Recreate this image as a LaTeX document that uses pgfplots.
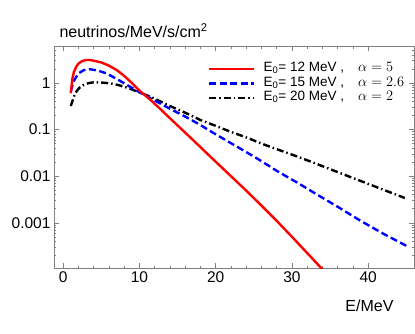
\documentclass[border=0pt]{standalone}
\usepackage{pgfplots}
\pgfplotsset{compat=1.18}
\usepackage{fontspec}
\setmainfont{Liberation Sans}

% spectra: E (MeV), flux
\pgfplotstableread{
E      f
1.0    0.6
1.2    1.2
1.4    1.7
1.7    2.2
2.0    2.6
2.5    2.95
3.0    3.1
3.5    3.1
4.0    3.0
5.0    2.75
6.0    2.35
7.0    1.9
8.0    1.42
9.0    1.0
10.1   0.66
11.4   0.44
12.5   0.30
14     0.175
16     0.086
18     0.042
20     0.0204
22     0.010
24     0.0049
26     0.00234
28     0.0011
30     0.0005
32     0.000224
34     0.0001
}\redspec
\pgfplotstableread{
E      f
1.0    0.65
1.35   1.07
2.0    1.6
2.7    1.88
3.5    1.97
4.5    1.85
5.7    1.6
7.25   1.16
8.5    0.88
10.1   0.62
12     0.42
14     0.28
16     0.19
18     0.125
20     0.079
22     0.051
24     0.033
26     0.021
28     0.013
30.8   0.0071
33     0.0043
36     0.0022
39     0.0011
42     0.00058
45     0.00032
}\bluespec
\pgfplotstableread{
E      f
1.0    0.32
1.57   0.6
2.1    0.78
2.66   0.9
3.3    0.99
4.0    1.03
5.0    1.02
6.2    0.98
7.25   0.9
8.5    0.78
10.1   0.62
12     0.46
14     0.32
16     0.23
18     0.16
20     0.12
22     0.089
24     0.068
26     0.05
28     0.038
30.8   0.026
33     0.019
36     0.0122
39     0.0079
42     0.0051
44.8   0.0034
}\blackspec

\begin{document}
\begin{tikzpicture}
\begin{semilogyaxis}[
    name=ax,
    scale only axis,
    width=360pt, height=222pt,
    xmin=-1.2, xmax=46,
    ymin=1.07e-4, ymax=6.2,
    xtick={0,10,20,30,40},
    minor x tick num=4,
    ytick={0.001,0.01,0.1,1},
    yticklabels={0.001,0.01,0.1,1},
    minor ytick={2e-4,3e-4,4e-4,5e-4,6e-4,7e-4,8e-4,9e-4,
                 2e-3,3e-3,4e-3,5e-3,6e-3,7e-3,8e-3,9e-3,
                 0.02,0.03,0.04,0.05,0.06,0.07,0.08,0.09,
                 0.2,0.3,0.4,0.5,0.6,0.7,0.8,0.9,2,3,4,5,6},
    tick align=inside,
    axis line style={gray},
    tick style={gray, line width=0.5pt},
    major tick length=5pt, minor tick length=2.5pt,
    tick label style={font=\fontsize{15.5}{16}\selectfont},
    /pgf/number format/assume math mode=true,
    clip=true,
    legend cell align=left,
    reverse legend,
    legend image code/.code={\draw[#1] (0pt,0pt) -- (45pt,0pt);},
    legend style={draw=none, fill=none, inner sep=0pt,
        at={(axis description cs:0.428,0.93)}, anchor=north west,
        font=\fontsize{13.5}{14}\selectfont,
        nodes={inner sep=0pt, text height=10pt, text depth=4.5pt},
        column sep=8pt},
]
\addplot[black, line width=2.4pt, dash pattern=on 7pt off 3pt on 1.5pt off 3pt] table[x=E, y=f] {\blackspec};
\addlegendentry{E\textsubscript{0}= 20 MeV ,\hspace{14pt}$\alpha = 2$}
\addplot[blue, line width=2.4pt, dash pattern=on 7pt off 3.5pt] table[x=E, y=f] {\bluespec};
\addlegendentry{E\textsubscript{0}= 15 MeV ,\hspace{14pt}$\alpha = 2.6$}
\addplot[red, line width=2.4pt] table[x=E, y=f] {\redspec};
\addlegendentry{E\textsubscript{0}= 12 MeV ,\hspace{14pt}$\alpha = 5$}
\end{semilogyaxis}
\node[anchor=base west, font=\fontsize{16}{17}\selectfont] at ([xshift=2pt, yshift=8.3pt]ax.north west) {neutrinos/MeV/s/cm\textsuperscript{2}};
\node[font=\fontsize{16}{17}\selectfont] at ([xshift=315.5pt, yshift=-38pt]ax.south west) {E/MeV};
\pgfresetboundingbox
\path[use as bounding box] ([xshift=-54pt, yshift=-65pt]ax.south west) rectangle ++(415pt,333pt);
\end{tikzpicture}
\end{document}
